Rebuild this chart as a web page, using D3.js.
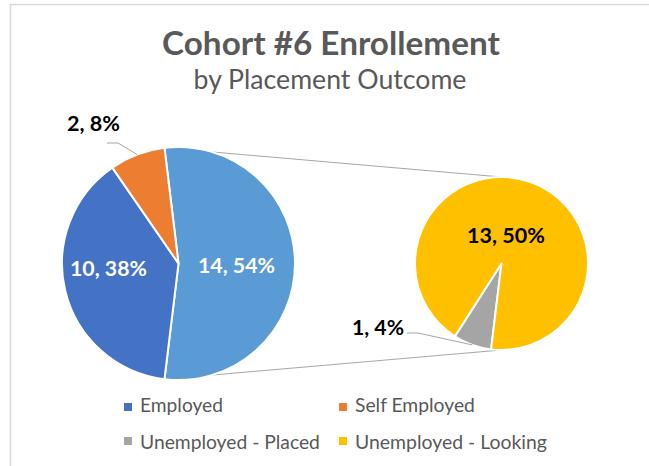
<!DOCTYPE html>
<html><head><meta charset="utf-8">
<script src="https://cdn.jsdelivr.net/npm/d3@7"></script>
<style>html,body{margin:0;padding:0;background:#fff;}svg{display:block;}</style>
</head><body>
<svg id="c" width="649" height="466"></svg>
<script>
// ---- data ----
const title = "Cohort #6 Enrollement";
const subtitle = "by Placement Outcome";
const categories = ["Employed", "Self Employed", "Unemployed - Placed", "Unemployed - Looking"];
const values = [10, 2, 1, 13];
const colors = ["#4472C4", "#ED7D31", "#A5A5A5", "#FFC000"];
const secondaryIdx = [2, 3];   // slices moved to the secondary pie
const mainIdx = [0, 1];
const otherColor = "#5B9BD5";

const total = d3.sum(values);
const otherValue = d3.sum(secondaryIdx, i => values[i]);
const pct = v => Math.round(v / total * 100) + "%";

const svg = d3.select("#c");
const FONT = "Lato, 'Open Sans', sans-serif";

// frame
svg.append("path").attr("d", "M10.5,466 V4.5 H649").attr("fill", "none").attr("stroke", "#d9d9d9").attr("stroke-width", 1.5);

function fit(sel, target) {
  const w = sel.node().getComputedTextLength();
  const fs = parseFloat(sel.attr("font-size"));
  sel.attr("font-size", fs * target / w);
  return sel;
}

// titles
fit(svg.append("text").attr("x", 331).attr("y", 55).attr("text-anchor", "middle")
  .attr("font-family", FONT).attr("font-weight", "bold").attr("font-size", 28).attr("fill", "#595959").text(title), 338);
fit(svg.append("text").attr("x", 330).attr("y", 89).attr("text-anchor", "middle")
  .attr("font-family", FONT).attr("font-size", 22).attr("fill", "#595959").text(subtitle), 273);

// geometry
const M = {cx: 178.5, cy: 263.5, r: 116.5};
const S = {cx: 501.5, cy: 263.5, r: 86.5};
const pt = (c, a, r) => [c.cx + (r ?? c.r) * Math.sin(a), c.cy - (r ?? c.r) * Math.cos(a)];

const otherSpan = otherValue / total * 2 * Math.PI;
const mainStart = Math.PI / 2 - otherSpan / 2;
const mainData = [{key: "Other", value: otherValue, color: otherColor}]
  .concat(mainIdx.map(i => ({key: categories[i], value: values[i], color: colors[i]})));
const mainArcs = d3.pie().sort(null).value(d => d.value)
  .startAngle(mainStart).endAngle(mainStart + 2 * Math.PI)(mainData);

const secStart = mainStart + otherSpan;
const secData = secondaryIdx.map(i => ({key: categories[i], value: values[i], color: colors[i]}));
const secArcs = d3.pie().sort(null).value(d => d.value)
  .startAngle(secStart).endAngle(secStart + 2 * Math.PI)(secData);

// connector lines (behind pies)
const lineColor = "#a6a6a6";
const oa = mainArcs[0];
const p1 = pt(M, oa.startAngle), p2 = pt(M, oa.endAngle);
const q1 = pt(S, 0), q2 = pt(S, Math.PI);
svg.append("line").attr("x1", p1[0]).attr("y1", p1[1]).attr("x2", q1[0]).attr("y2", q1[1]).attr("stroke", lineColor).attr("stroke-width", 1);
svg.append("line").attr("x1", p2[0]).attr("y1", p2[1]).attr("x2", q2[0]).attr("y2", q2[1]).attr("stroke", lineColor).attr("stroke-width", 1);

// pies
const arcM = d3.arc().innerRadius(0).outerRadius(M.r);
svg.append("g").attr("transform", `translate(${M.cx},${M.cy})`).selectAll("path").data(mainArcs).join("path")
  .attr("d", arcM).attr("fill", d => d.data.color).attr("stroke", "#fff").attr("stroke-width", 2).attr("stroke-linejoin", "round");
const arcS = d3.arc().innerRadius(0).outerRadius(S.r);
svg.append("g").attr("transform", `translate(${S.cx},${S.cy})`).selectAll("path").data(secArcs).join("path")
  .attr("d", arcS).attr("fill", d => d.data.color).attr("stroke", "#fff").attr("stroke-width", 2).attr("stroke-linejoin", "round");

// leader lines
const mid = a => (a.startAngle + a.endAngle) / 2;
const seArc = mainArcs[2];
const e1 = pt(M, mid(seArc));
svg.append("polyline").attr("points", `107,143 118,143 ${e1[0]},${e1[1]}`).attr("fill", "none").attr("stroke", lineColor).attr("stroke-width", 1);
const plArc = secArcs[0];
const e2 = pt(S, mid(plArc));
svg.append("polyline").attr("points", `407,333 418,333 ${e2[0]},${e2[1]}`).attr("fill", "none").attr("stroke", lineColor).attr("stroke-width", 1);

// data labels
const labels = [
  {text: `${otherValue}, ${pct(otherValue)}`, x: 236.5, y: 273, w: 77, fill: "#fff"},
  {text: `${values[0]}, ${pct(values[0])}`, x: 108.5, y: 276, w: 77, fill: "#fff"},
  {text: `${values[1]}, ${pct(values[1])}`, x: 93.5, y: 131, w: 53, fill: "#000"},
  {text: `${values[2]}, ${pct(values[2])}`, x: 378, y: 335, w: 52, fill: "#000"},
  {text: `${values[3]}, ${pct(values[3])}`, x: 506, y: 243, w: 78, fill: "#000"}
];
labels.forEach(l => {
  fit(svg.append("text").attr("x", l.x).attr("y", l.y).attr("text-anchor", "middle")
    .attr("font-family", FONT).attr("font-weight", "bold").attr("font-size", 22).attr("fill", l.fill).text(l.text), l.w);
});

// legend
const legendPos = [
  {sx: 124, sy: 403, tx: 140, ty: 412, w: 83},
  {sx: 339, sy: 403, tx: 355, ty: 412, w: 120},
  {sx: 124, sy: 437, tx: 140, ty: 449, w: 180},
  {sx: 339, sy: 437, tx: 355, ty: 449, w: 192}
];
categories.forEach((c, i) => {
  const p = legendPos[i];
  svg.append("rect").attr("x", p.sx).attr("y", p.sy).attr("width", 8).attr("height", 8).attr("fill", colors[i]);
  fit(svg.append("text").attr("x", p.tx).attr("y", p.ty).attr("font-family", FONT).attr("font-size", 19)
    .attr("fill", "#595959").text(c), p.w);
});
</script>
</body></html>
